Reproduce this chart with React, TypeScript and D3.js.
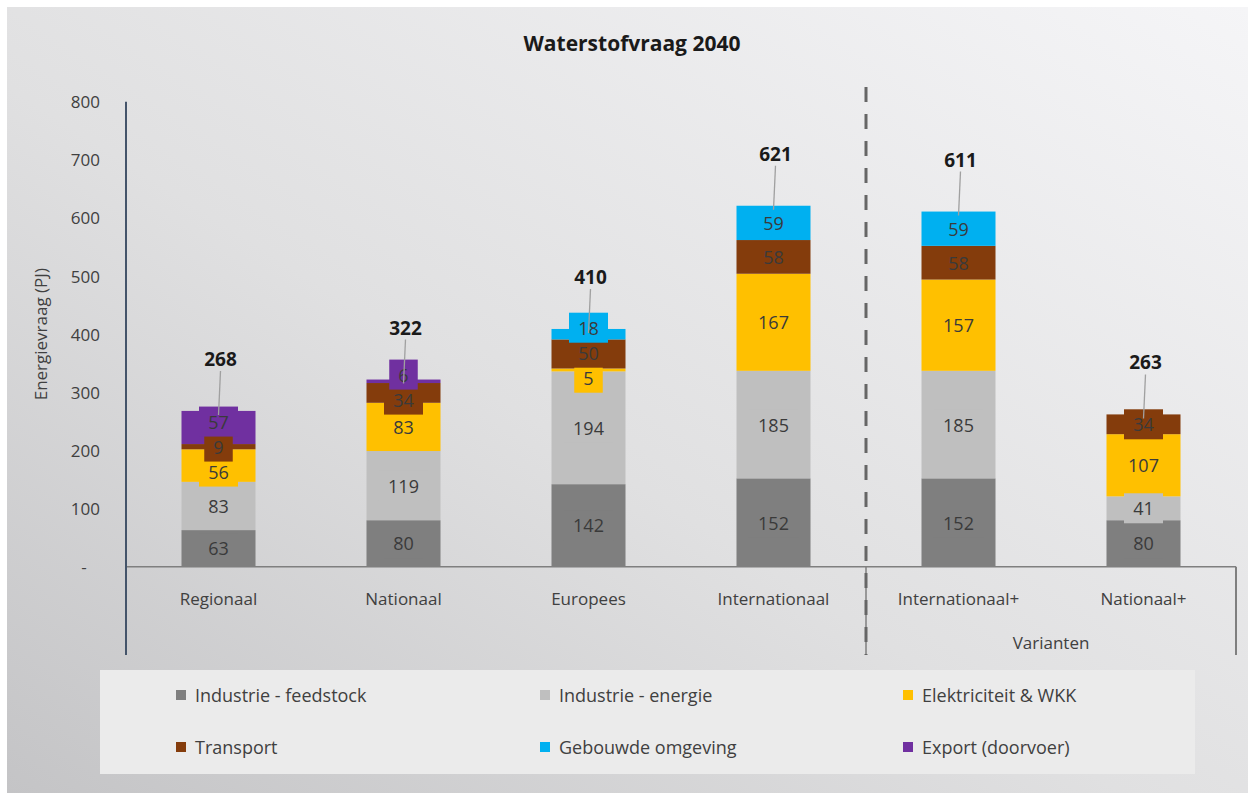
import React from "react";
import * as d3 from "d3";

// Data
const categories = ["Regionaal", "Nationaal", "Europees", "Internationaal", "Internationaal+", "Nationaal+"];
const seriesNames = [
  "Industrie - feedstock",
  "Industrie - energie",
  "Elektriciteit & WKK",
  "Transport",
  "Gebouwde omgeving",
  "Export (doorvoer)",
];
const feedstock = [63, 80, 142, 152, 152, 80];
const energie = [83, 119, 194, 185, 185, 41];
const elektriciteit = [56, 83, 5, 167, 157, 107];
const transport = [9, 34, 50, 58, 58, 34];
const gebouwde = [0, 0, 18, 59, 59, 0];
const doorvoer = [57, 6, 0, 0, 0, 0];
const totals = [268, 322, 410, 621, 611, 263];
const yTicks = [0, 100, 200, 300, 400, 500, 600, 700, 800];
const variantCategories = ["Internationaal+", "Nationaal+"];

const colors = ["#7f7f7f", "#bfbfbf", "#ffc000", "#843c0c", "#00b0f0", "#7030a0"];

const FONT = "'Open Sans', 'Noto Sans', sans-serif";

const App = () => {
  // Dimensions
  const width = 1248;
  const height = 793;
  const left = 126;
  const right = 1236;
  const top = 101.7;
  const bottom = 566.7;
  const axisBottom = 655;

  // Table for the stack
  const table = categories.map((c, i) => ({
    category: c,
    [seriesNames[0]]: feedstock[i],
    [seriesNames[1]]: energie[i],
    [seriesNames[2]]: elektriciteit[i],
    [seriesNames[3]]: transport[i],
    [seriesNames[4]]: gebouwde[i],
    [seriesNames[5]]: doorvoer[i],
  }));
  const stacked = d3.stack<any>().keys(seriesNames)(table);

  // Scales
  const xScale = d3.scaleBand().domain(categories).range([left, right]).paddingInner(0.6).paddingOuter(0.3);
  const yScale = d3.scaleLinear().domain([0, 800]).range([bottom, top]);
  const color = d3.scaleOrdinal<string>().domain(seriesNames).range(colors);

  const bw = xScale.bandwidth();
  const step = xScale.step();
  const dividerX = (xScale(variantCategories[0]) as number) - (step - bw) / 2;

  // Data labels: centred in segment, then pushed apart where they collide
  const GAP = 25;
  type Lbl = { key: string; v: number; cx: number; cy: number };
  const labels: Lbl[] = [];
  categories.forEach((c, i) => {
    const cx = (xScale(c) as number) + bw / 2;
    const col: Lbl[] = [];
    stacked.forEach((s) => {
      const d = s[i];
      const v = d[1] - d[0];
      if (v > 0) col.push({ key: s.key, v, cx, cy: yScale((d[0] + d[1]) / 2) });
    });
    for (let it = 0; it < 30; it++) {
      for (let k = 0; k < col.length - 1; k++) {
        const lo = col[k];
        const hi = col[k + 1];
        const diff = lo.cy - hi.cy;
        if (diff < GAP) {
          const push = (GAP - diff) / 2;
          lo.cy += push;
          hi.cy -= push;
        }
      }
    }
    labels.push(...col);
  });

  // legend layout
  const legendCols = [176, 540, 903];
  const legendRows = [695, 747];

  return (
    <div style={{ position: "absolute", left: 0, top: 0 }}>
      <svg width={width} height={height} style={{ display: "block", fontFamily: FONT }}>
        <defs>
          <linearGradient id="bg" x1="1" y1="0" x2="0" y2="1">
            <stop offset="0%" stopColor="#f5f5f7" />
            <stop offset="55%" stopColor="#e0e0e1" />
            <stop offset="100%" stopColor="#c4c4c6" />
          </linearGradient>
        </defs>
        <rect x={0} y={0} width={width} height={height} fill="#ffffff" />
        <rect x={7} y={7} width={width - 7} height={height - 7} fill="url(#bg)" />

        {/* Title */}
        <text x={632} y={43} textAnchor="middle" dominantBaseline="central" fontSize={21} fontWeight={700} fill="#1a1a1a">
          Waterstofvraag 2040
        </text>

        {/* Y axis */}
        {yTicks.map((t) =>
          t === 0 ? (
            <text key={t} x={84} y={yScale(t)} textAnchor="middle" dominantBaseline="central" fontSize={17} fill="#404040">
              -
            </text>
          ) : (
            <text key={t} x={100} y={yScale(t)} textAnchor="end" dominantBaseline="central" fontSize={17} fill="#404040">
              {t}
            </text>
          )
        )}
        <text
          transform={`translate(40, ${(top + bottom) / 2}) rotate(-90)`}
          textAnchor="middle"
          dominantBaseline="central"
          fontSize={17}
          fill="#404040"
        >
          Energievraag (PJ)
        </text>

        {/* Bars */}
        {stacked.map((s) => (
          <g key={s.key}>
            {s.map((d, i) => (
              <rect
                key={i}
                x={xScale(categories[i])}
                y={yScale(d[1])}
                width={bw}
                height={Math.max(0, yScale(d[0]) - yScale(d[1]))}
                fill={color(s.key)}
              />
            ))}
          </g>
        ))}

        {/* Data labels with series-coloured boxes */}
        {labels.map((l, j) => {
          const w = String(l.v).length * 10.5 + 18;
          return (
            <g key={"lbl" + j}>
              <rect x={l.cx - w / 2} y={l.cy - 15} width={w} height={30} fill={color(l.key)} />
              <text x={l.cx} y={l.cy} textAnchor="middle" dominantBaseline="central" fontSize={18} fill="#3a3a3a">
                {l.v}
              </text>
            </g>
          );
        })}

        {/* Totals with leader lines */}
        {totals.map((t, i) => {
          const cx = (xScale(categories[i]) as number) + bw / 2;
          const barTop = yScale(stacked[stacked.length - 1][i][1]);
          const ly = barTop - 52;
          return (
            <g key={"tot" + i}>
              <line x1={cx + 2} y1={ly + 12} x2={cx} y2={barTop + 4} stroke="#a0a0a0" strokeWidth={1.3} />
              <text x={cx + 2} y={ly} textAnchor="middle" dominantBaseline="central" fontSize={19} fontWeight={700} fill="#1a1a1a">
                {t}
              </text>
            </g>
          );
        })}

        {/* Axes lines */}
        <line x1={left} x2={right} y1={bottom} y2={bottom} stroke="#7f7f7f" strokeWidth={1.6} />
        <line x1={left} x2={left} y1={top} y2={axisBottom} stroke="#44546a" strokeWidth={2} />
        <line x1={right} x2={right} y1={bottom} y2={axisBottom} stroke="#7f7f7f" strokeWidth={2} />
        <line x1={dividerX} x2={dividerX} y1={bottom} y2={axisBottom} stroke="#7f7f7f" strokeWidth={1.5} />
        <line x1={dividerX} x2={dividerX} y1={87} y2={axisBottom} stroke="#666666" strokeWidth={3} strokeDasharray="15 12" />

        {/* Category labels */}
        {categories.map((c) => (
          <text
            key={c}
            x={(xScale(c) as number) + bw / 2}
            y={598}
            textAnchor="middle"
            dominantBaseline="central"
            fontSize={17}
            fill="#404040"
          >
            {c}
          </text>
        ))}
        <text x={(dividerX + right) / 2} y={642} textAnchor="middle" dominantBaseline="central" fontSize={17} fill="#404040">
          Varianten
        </text>

        {/* Legend */}
        <rect x={100} y={670} width={1095} height={104} fill="#ebebeb" />
        {seriesNames.map((n, i) => {
          const lx = legendCols[i % 3];
          const ly = legendRows[Math.floor(i / 3)];
          return (
            <g key={n}>
              <rect x={lx} y={ly - 5} width={10} height={10} fill={color(n)} />
              <text x={lx + 19} y={ly} dominantBaseline="central" fontSize={18} fill="#404040">
                {n}
              </text>
            </g>
          );
        })}
      </svg>
    </div>
  );
};

export default App;
